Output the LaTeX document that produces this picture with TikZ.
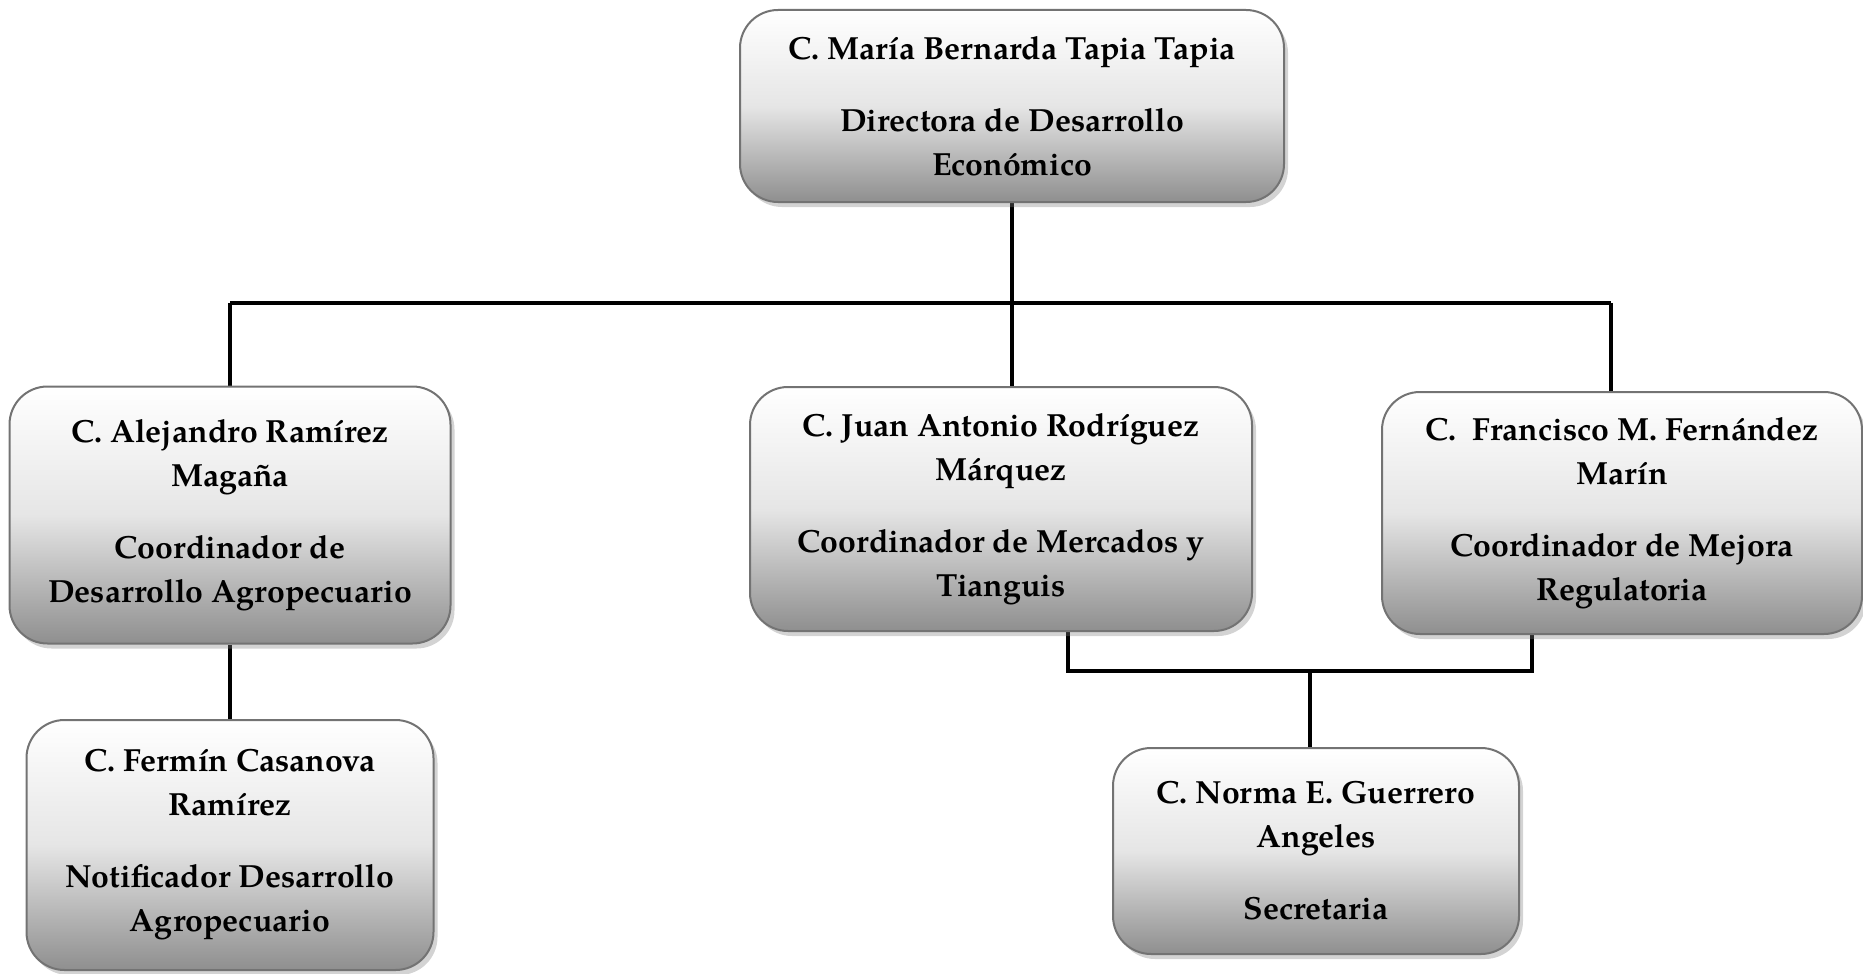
\documentclass[tikz,border=0pt]{standalone}
\usepackage{fontspec}
\setmainfont{TeX Gyre Pagella}
\usetikzlibrary{shadows}
\pgfdeclarelayer{bg}
\pgfsetlayers{bg,main}
\tikzset{
  orgbox/.style={draw=black!55, line width=2pt, rounded corners=38pt,
    top color=white, bottom color=black!44, middle color=black!10,
    drop shadow={shadow xshift=4pt, shadow yshift=-5pt, opacity=0.35},
    align=center, inner sep=0pt,
    font=\fontsize{32}{44}\selectfont\bfseries},
  link/.style={line width=4.5pt, black}
}
\begin{document}
\begin{tikzpicture}[x=1pt,y=-1pt]
\useasboundingbox (0,0) rectangle (1863,974);
\node[orgbox, minimum width=544pt, minimum height=192pt] (dir) at (1012,106)
  {C. María Bernarda Tapia Tapia\\[28pt]Directora de Desarrollo\\Económico};
\node[orgbox, minimum width=441pt, minimum height=257pt] (ale) at (230,515)
  {C. Alejandro Ramírez\\Magaña\\[28pt]Coordinador de\\Desarrollo Agropecuario};
\node[orgbox, minimum width=502pt, minimum height=244pt] (juan) at (1001,509)
  {C. Juan Antonio Rodríguez\\Márquez\\[28pt]Coordinador de Mercados y\\Tianguis};
\node[orgbox, minimum width=480pt, minimum height=242pt] (fran) at (1622,513)
  {C.\ \ Francisco M. Fernández\\Marín\\[28pt]Coordinador de Mejora\\Regulatoria};
\node[orgbox, minimum width=407pt, minimum height=250pt] (fer) at (230,845)
  {C. Fermín Casanova\\Ramírez\\[28pt]Notificador Desarrollo\\Agropecuario};
\node[orgbox, minimum width=406pt, minimum height=206pt] (sec) at (1316,851)
  {C. Norma E. Guerrero\\Angeles\\[28pt]Secretaria};
\coordinate (barL) at (230,303);
\coordinate (barR) at (1611,303);
\coordinate (barM) at (dir.south |- barL);
\coordinate (sL) at (1068,671);
\coordinate (sR) at (1532,671);
\coordinate (sM) at (1310,671);
\begin{pgfonlayer}{bg}
\draw[link] (dir.south) -- (barM);
\draw[link] (barL) -- (barR);
\draw[link] (barL) -- (ale.north);
\draw[link] (barM) -- (barM |- juan.north);
\draw[link] (barR) -- (barR |- fran.north);
\draw[link] (ale.south) -- (fer.north);
\draw[link] (sL |- juan.south) -- (sL) -- (sR) -- (sR |- fran.south);
\draw[link] (sM) -- (sM |- sec.north);
\end{pgfonlayer}
\end{tikzpicture}
\end{document}
